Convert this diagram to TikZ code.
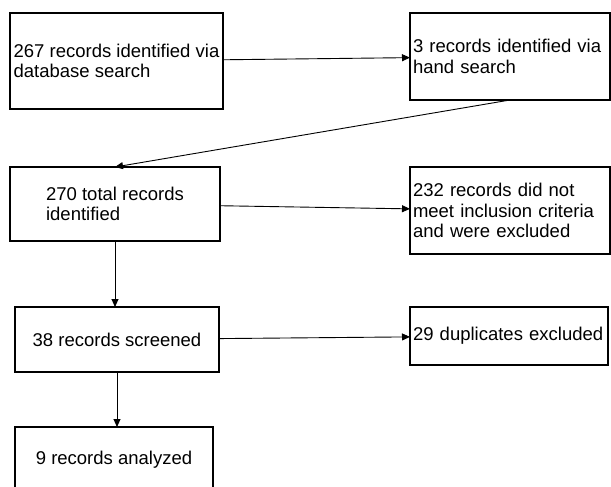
\documentclass[tikz,border=0pt]{standalone}
\usepackage{fontspec}
\setmainfont{Liberation Sans}
\usetikzlibrary{arrows.meta,calc}

\begin{document}
\begin{tikzpicture}[x=1pt,y=-1pt,
    box/.style={draw, line width=1.2pt, outer sep=0pt, inner xsep=3pt, align=left,
      font=\fontsize{18.5}{20.5}\selectfont},
    flow/.style={-{Triangle[length=8pt,width=7pt]}, line width=0.9pt}]
    \clip (0,0) rectangle (611,487);

    \node[box, minimum width=213, minimum height=96] (db) at (116.5,61) {267 records identified via\\database search};
    \node[box, minimum width=200, minimum height=87, text width=194] (hand) at (510,56.5) {3 records identified via\\hand search};
    \node[box, minimum width=210, minimum height=74] (total) at (115,204) {270 total records\\identified};
    \node[box, minimum width=200, minimum height=87, text width=194] (excl) at (510,210.5) {232 records did not\\meet inclusion criteria\\and were excluded};
    \node[box, minimum width=204, minimum height=65] (scr) at (117,339.5) {38 records screened};
    \node[box, minimum width=198, minimum height=58, text width=192] (dup) at (509,336) {29 duplicates excluded};
    \node[box, minimum width=198, minimum height=66] (ana) at (114,460) {9 records analyzed};

    \draw[flow] (db) -- (hand);
    \draw[flow] (hand.south) -- (total.north);
    \draw[flow] (total) -- (excl);
    \draw[flow] (total.south) -- (total.south |- scr.north);
    \draw[flow] (scr) -- (dup);
    \draw[flow] (scr.south) -- (scr.south |- ana.north);
  \end{tikzpicture}
\end{document}
